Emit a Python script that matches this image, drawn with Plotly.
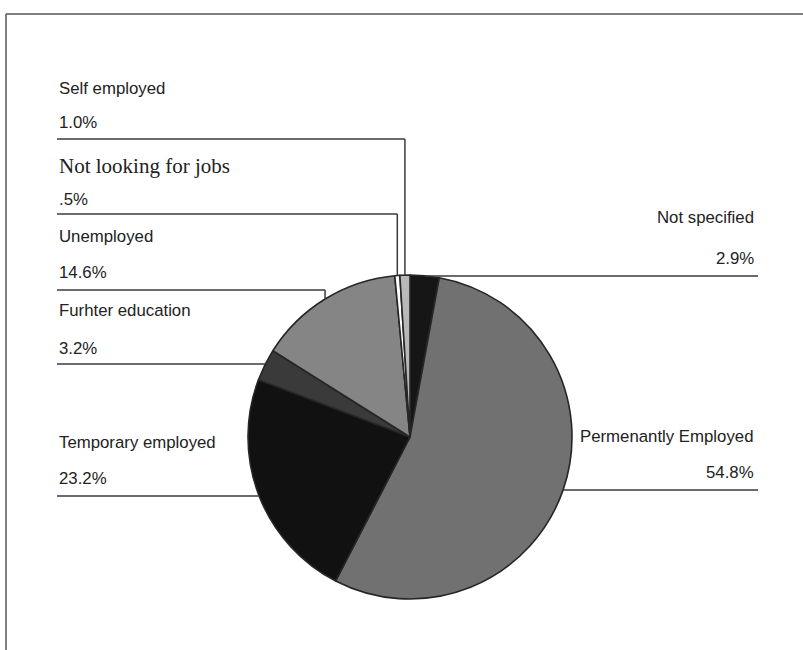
import math
import plotly.graph_objects as go

# Employment status of respondents (share, %), clockwise from 12 o'clock
categories = ["Not specified", "Permenantly Employed", "Temporary employed",
              "Furhter education", "Unemployed", "Not looking for jobs", "Self employed"]
shares = [2.9, 54.8, 23.2, 3.2, 14.6, 0.5, 1.0]
share_labels = ["2.9%", "54.8%", "23.2%", "3.2%", "14.6%", ".5%", "1.0%"]
slice_colors = ["#161616", "#717171", "#111111", "#3a3a3a", "#858585", "#ffffff", "#b8b8b8"]

W, H = 803, 650
CX, CY, R = 410, 437, 162  # pie centre and radius in pixels


def px(x):
    return x / W


def py(y):
    return 1 - y / H


# label blocks: (side, name y, value y, underline y)
label_layout = {
    "Self employed":        ("left", 88, 123, 139),
    "Not looking for jobs": ("left", 166, 199, 214),
    "Unemployed":           ("left", 237, 273, 290),
    "Furhter education":    ("left", 310, 348, 364),
    "Temporary employed":   ("left", 442, 478, 496),
    "Not specified":        ("right", 217, 258, 276),
    "Permenantly Employed": ("right", 436, 472, 490),
}
LEFT_X, RIGHT_X = 57, 758
LINE = dict(color="#3a3a3a", width=1.5)
TEXT_FONT = dict(family="Liberation Sans", size=16.8, color="#222222")

fig = go.Figure(go.Pie(
    labels=categories,
    values=shares,
    sort=False,
    direction="clockwise",
    rotation=0,
    textinfo="none",
    hoverinfo="skip",
    marker=dict(colors=slice_colors, line=dict(color="#262626", width=1.6)),
    domain=dict(x=[px(CX - R), px(CX + R)], y=[py(CY + R), py(CY - R)]),
    showlegend=False,
))

shapes = [
    # frame: top and left edges (the rest runs off the page)
    dict(type="line", xref="paper", yref="paper", x0=px(6), y0=py(14), x1=1, y1=py(14),
         line=dict(color="#555555", width=1.5)),
    dict(type="line", xref="paper", yref="paper", x0=px(6), y0=py(14), x1=px(6), y1=0,
         line=dict(color="#555555", width=1.5)),
]
annotations = []

total = sum(shares)
cum = 0.0
for name, val, lab in zip(categories, shares, share_labels):
    mid = (cum + val / 2) / total * 2 * math.pi
    cum += val
    ax = CX + R * math.sin(mid)
    ay = CY - R * math.cos(mid)
    side, ny, vy, sy = label_layout[name]
    if side == "left":
        x_text, anchor, x_edge = LEFT_X, "left", LEFT_X
    else:
        x_text, anchor, x_edge = RIGHT_X - 2, "right", RIGHT_X
    shapes.append(dict(type="line", xref="paper", yref="paper",
                       x0=px(x_edge), y0=py(sy), x1=px(ax), y1=py(sy), line=LINE))
    if abs(ay - sy) > 1:
        shapes.append(dict(type="line", xref="paper", yref="paper",
                           x0=px(ax), y0=py(sy), x1=px(ax), y1=py(ay), line=LINE))
    if name == "Not looking for jobs":
        name_font = dict(family="Liberation Serif", size=21, color="#222222")
    else:
        name_font = TEXT_FONT
    annotations.append(dict(text=name, xref="paper", yref="paper", x=px(x_text), y=py(ny),
                            xanchor=anchor, yanchor="middle", showarrow=False, font=name_font))
    annotations.append(dict(text=lab, xref="paper", yref="paper", x=px(x_text), y=py(vy),
                            xanchor=anchor, yanchor="middle", showarrow=False, font=TEXT_FONT))

fig.update_layout(
    width=W, height=H,
    margin=dict(l=0, r=0, t=0, b=0),
    paper_bgcolor="white",
    plot_bgcolor="white",
    shapes=shapes,
    annotations=annotations,
)

fig.write_html("out.html")
